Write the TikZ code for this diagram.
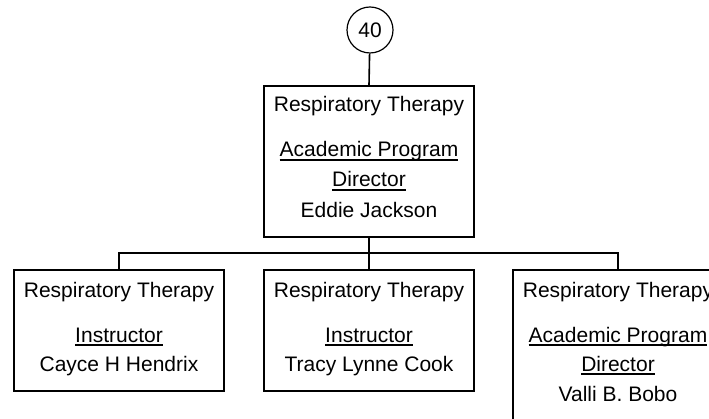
\documentclass[tikz,border=0pt]{standalone}
\usepackage{fontspec}
\setmainfont{Liberation Sans}
\begin{document}
\begin{tikzpicture}[x=1pt,y=-1pt,
  boxst/.style={draw,line width=1.6pt,minimum width=210pt,inner sep=0pt},
  lbl/.style={font=\fontsize{21}{25}\selectfont,inner sep=0pt,anchor=base},
  ul/.style={line width=1.5pt},
  conn/.style={line width=1.6pt}]
\useasboundingbox (0,0) rectangle (709,419);
\clip (0,0) rectangle (709,419);
% circle
\node[draw,circle,line width=1.2pt,minimum size=46pt,inner sep=0pt,font=\fontsize{21}{25}\selectfont] (c) at (370,30) {40};
% top box
\node[boxst,minimum height=151pt] (top) at (369,161.5) {};
\node[lbl] (t1) at (369,112) {Respiratory Therapy};
\node[lbl] (t2) at (369,157) {Academic Program\ };
\node[lbl] (t3) at (369,187) {Director};
\node[lbl] (t4) at (369,218) {Eddie Jackson};
% left box
\node[boxst,minimum height=121pt] (left) at (119,330.5) {};
\node[lbl] (l1) at (119,297.5) {Respiratory Therapy};
\node[lbl] (l2) at (119,342) {Instructor};
\node[lbl] (l3) at (119,371.5) {Cayce H Hendrix};
% middle box
\node[boxst,minimum height=121pt] (mid) at (369,330.5) {};
\node[lbl] (m1) at (369,297.5) {Respiratory Therapy};
\node[lbl] (m2) at (369,342) {Instructor};
\node[lbl] (m3) at (369,371.5) {Tracy Lynne Cook};
% right box
\node[boxst,minimum height=180pt] (right) at (618,360) {};
\node[lbl] (r1) at (618,297.5) {Respiratory Therapy};
\node[lbl] (r2) at (618,342) {Academic Program\ };
\node[lbl] (r3) at (618,371) {Director};
\node[lbl] (r4) at (618,401.5) {Valli B. Bobo};
% underlines
\foreach \n in {t2,t3,l2,m2,r2,r3}
  \draw[ul] ([yshift=-3pt]\n.base west) -- ([yshift=-3pt]\n.base east);
% connectors
\coordinate (j) at (369,253);
\draw[conn] (c) -- (top.north);
\draw[conn] (top.south) -- (j);
\draw[conn] (j) -- (mid.north);
\draw[conn] (left.north) |- (j) -| (right.north);
\end{tikzpicture}
\end{document}
